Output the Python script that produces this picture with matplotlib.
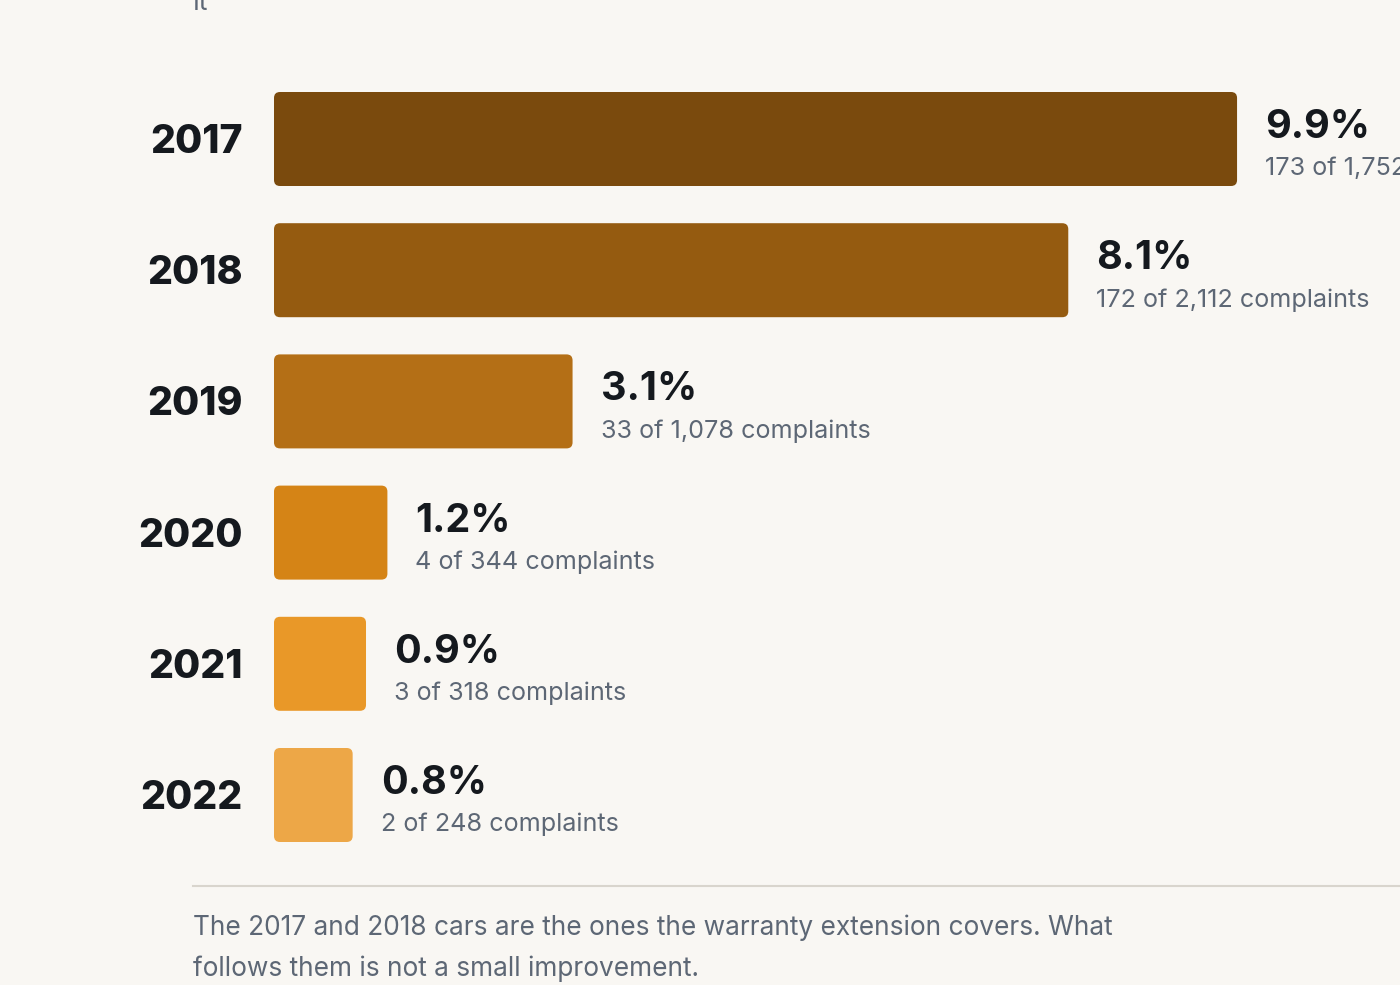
import matplotlib.pyplot as plt
from matplotlib.patches import FancyBboxPatch
from matplotlib.lines import Line2D

plt.rcParams['font.family'] = ['Inter', 'DejaVu Sans']

years = ['2017', '2018', '2019', '2020', '2021', '2022']
hits = [173, 172, 33, 4, 3, 2]
totals = [1752, 2112, 1078, 344, 318, 248]
pct_labels = ['9.9%', '8.1%', '3.1%', '1.2%', '0.9%', '0.8%']
colors = ['#7a4a0d', '#955b10', '#b46f16', '#d58416', '#e99828', '#eda747']
footer = ('The 2017 and 2018 cars are the ones the warranty extension covers. What\n'
          'follows them is not a small improvement.')

rates = [100 * h / t for h, t in zip(hits, totals)]

W, H = 1400, 985
bg = '#f9f7f3'
dark = '#15191e'
gray = '#5d6775'

fig = plt.figure(figsize=(14, 9.85), dpi=100, facecolor=bg)

# pixel layout
x0 = 274
px_per_pct = 97.53
row0 = 139
pitch = 131.2
top_px, bot_px = 60, 870

ax = fig.add_axes([x0 / W, 1 - bot_px / H, (W - x0) / W, (bot_px - top_px) / H])
ax.set_facecolor(bg)
ax.set_xlim(0, (W - x0) / px_per_pct)
ax.set_ylim((bot_px - row0) / pitch, (top_px - row0) / pitch)
ax.axis('off')

ypos = list(range(len(years)))
bars = ax.barh(ypos, rates, height=94 / pitch, color=colors)

# swap plain bars for rounded ones
r = 6 / px_per_pct
aspect = px_per_pct / pitch
for b, c in zip(bars, colors):
    bx, by, bw, bh = b.get_x(), b.get_y(), b.get_width(), b.get_height()
    b.remove()
    ax.add_patch(FancyBboxPatch((bx, by), bw, bh,
                                boxstyle=f'round,pad=0,rounding_size={r}',
                                mutation_aspect=aspect, facecolor=c,
                                edgecolor='none', clip_on=False))

k = 72 / 100  # px -> pt
for i, (yr, rate, pl, h, t) in enumerate(zip(years, rates, pct_labels, hits, totals)):
    ax.annotate(yr, (0, i), xytext=(-31 * k, -14 * k), textcoords='offset points',
                ha='right', va='baseline', fontsize=28.2, fontweight='heavy', color=dark)
    ax.annotate(pl, (rate, i), xytext=(28 * k, 1 * k), textcoords='offset points',
                ha='left', va='baseline', fontsize=28.5, fontweight='bold', color=dark,
                annotation_clip=False)
    ax.annotate(f'{h:,} of {t:,} complaints', (rate, i), xytext=(28 * k, -36.5 * k),
                textcoords='offset points', ha='left', va='baseline',
                fontsize=18.1, color=gray, annotation_clip=False)

fig.add_artist(Line2D([193 / W, 1], [1 - 886 / H, 1 - 886 / H],
                      color='#d9d5cd', linewidth=1.5))
# baseline of the last footer line
fig.text(193 / W, 1 - 976 / H, footer, ha='left', va='baseline',
         fontsize=18.9, color=gray, linespacing=1.72)
fig.text(193 / W, 1 - 10 / H, 'It', ha='left', va='baseline',
         fontsize=18.9, color=gray)

fig.savefig('out.png', dpi=100, facecolor=bg)
